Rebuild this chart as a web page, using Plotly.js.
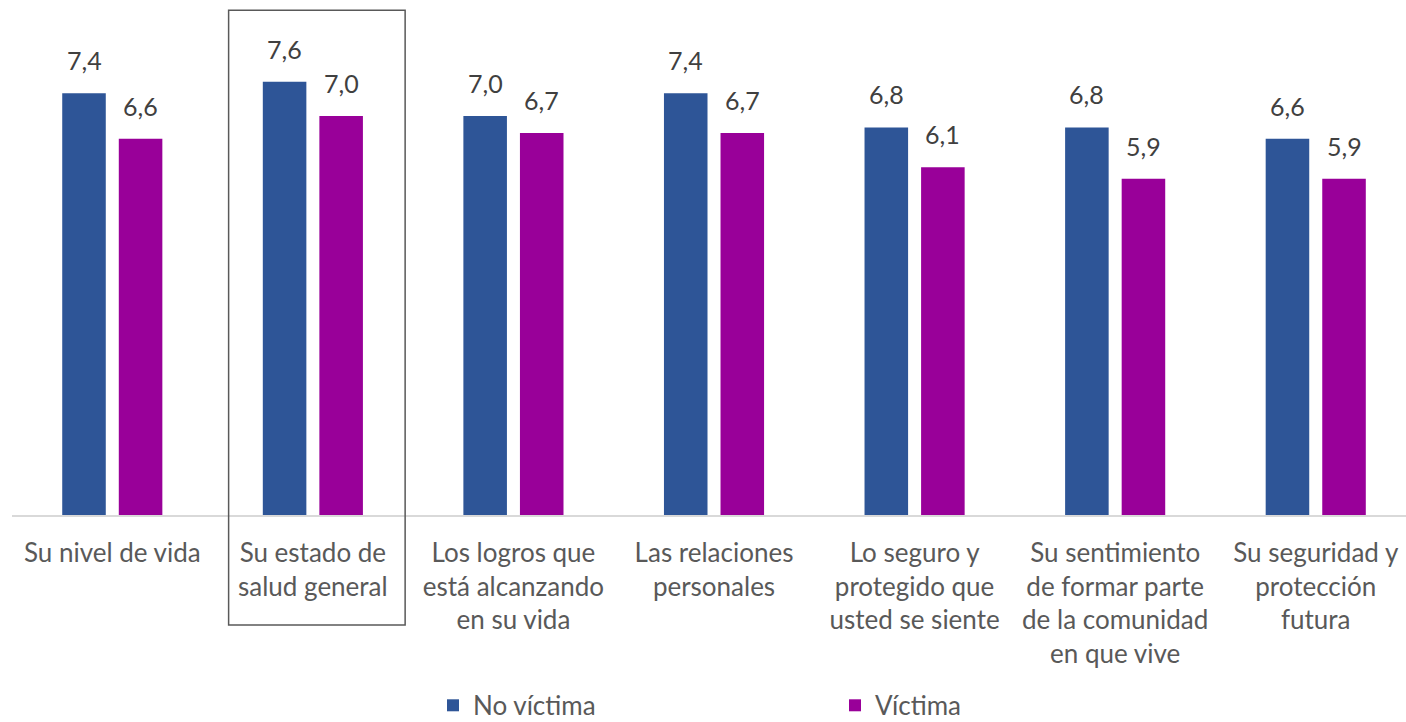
<!DOCTYPE html>
<html>
<head>
<meta charset="utf-8">
<script src="https://cdn.plot.ly/plotly-3.0.1.min.js"></script>
<style>
  html, body { margin: 0; padding: 0; background: #ffffff; overflow: hidden; }
  #chart { width: 1406px; height: 722px; }
</style>
</head>
<body>
<div id="chart"></div>
<script>
// ---- Data ----
const categories = [
  "Su nivel de vida",
  "Su estado de<br>salud general",
  "Los logros que<br>está alcanzando<br>en su vida",
  "Las relaciones<br>personales",
  "Lo seguro y<br>protegido que<br>usted se siente",
  "Su sentimiento<br>de formar parte<br>de la comunidad<br>en que vive",
  "Su seguridad y<br>protección<br>futura"
];
const seriesNames = ["No víctima", "Víctima"];
const noVictima = [7.4, 7.6, 7.0, 7.4, 6.8, 6.8, 6.6];
const victima   = [6.6, 7.0, 6.7, 6.7, 6.1, 5.9, 5.9];
const highlightIndex = 1;

// ---- Style ----
const colors = ["#2E5597", "#990099"];
const FONT = "Lato, 'Open Sans', sans-serif";
const bargap = 0.436;
const bargroupgap = 0.23;

const idx = categories.map((_, i) => i);
const seriesValues = [noVictima, victima];

const traces = seriesValues.map((vals, s) => ({
  type: "bar",
  name: seriesNames[s],
  x: idx,
  y: vals,
  marker: { color: colors[s] },
  hoverinfo: "y+name"
}));

// data labels positioned from data through axis scale
const groupOffset = (1 - bargap) / 4;
const annotations = [];
seriesValues.forEach((vals, s) => {
  vals.forEach((v, j) => {
    annotations.push({
      x: j + (s === 0 ? -groupOffset : groupOffset),
      y: v,
      xref: "x", yref: "y",
      text: v.toFixed(1).replace(".", ","),
      showarrow: false,
      yanchor: "bottom",
      yshift: 16,
      font: { family: FONT, size: 25, color: "#404040" }
    });
  });
});

const layout = {
  width: 1406,
  height: 722,
  margin: { l: 12, r: 0, t: 2, b: 207 },
  paper_bgcolor: "#ffffff",
  plot_bgcolor: "#ffffff",
  font: { family: FONT, color: "#595959" },
  bargap: bargap,
  bargroupgap: bargroupgap,
  barmode: "group",
  showlegend: true,
  legend: {
    orientation: "h",
    xref: "paper",
    x: 0.302, xanchor: "left",
    yref: "container",
    y: 0.023, yanchor: "middle",
    entrywidth: 357,
    entrywidthmode: "pixels",
    font: { family: FONT, size: 26, color: "#595959" },
    bgcolor: "rgba(0,0,0,0)"
  },
  xaxis: {
    range: [-0.5, 6.45],
    tickmode: "array",
    tickvals: idx,
    ticktext: categories,
    showgrid: false,
    zeroline: false,
    showline: true,
    linecolor: "#d9d9d9",
    linewidth: 1.5,
    ticks: "",
    ticklabelstandoff: 14,
    automargin: false,
    tickfont: { family: FONT, size: 26, color: "#595959" },
    fixedrange: true
  },
  yaxis: {
    range: [0, 9],
    showgrid: false,
    zeroline: false,
    showline: false,
    showticklabels: false,
    ticks: "",
    fixedrange: true
  },
  shapes: [{
    type: "rect",
    xref: "x", yref: "paper",
    x0: highlightIndex - 0.42, x1: highlightIndex + 0.46,
    y0: -0.2144, y1: 0.984,
    line: { color: "#595959", width: 1.5 },
    fillcolor: "rgba(0,0,0,0)"
  }],
  annotations: annotations
};

Plotly.newPlot("chart", traces, layout, { displayModeBar: false, staticPlot: true });
</script>
</body>
</html>
